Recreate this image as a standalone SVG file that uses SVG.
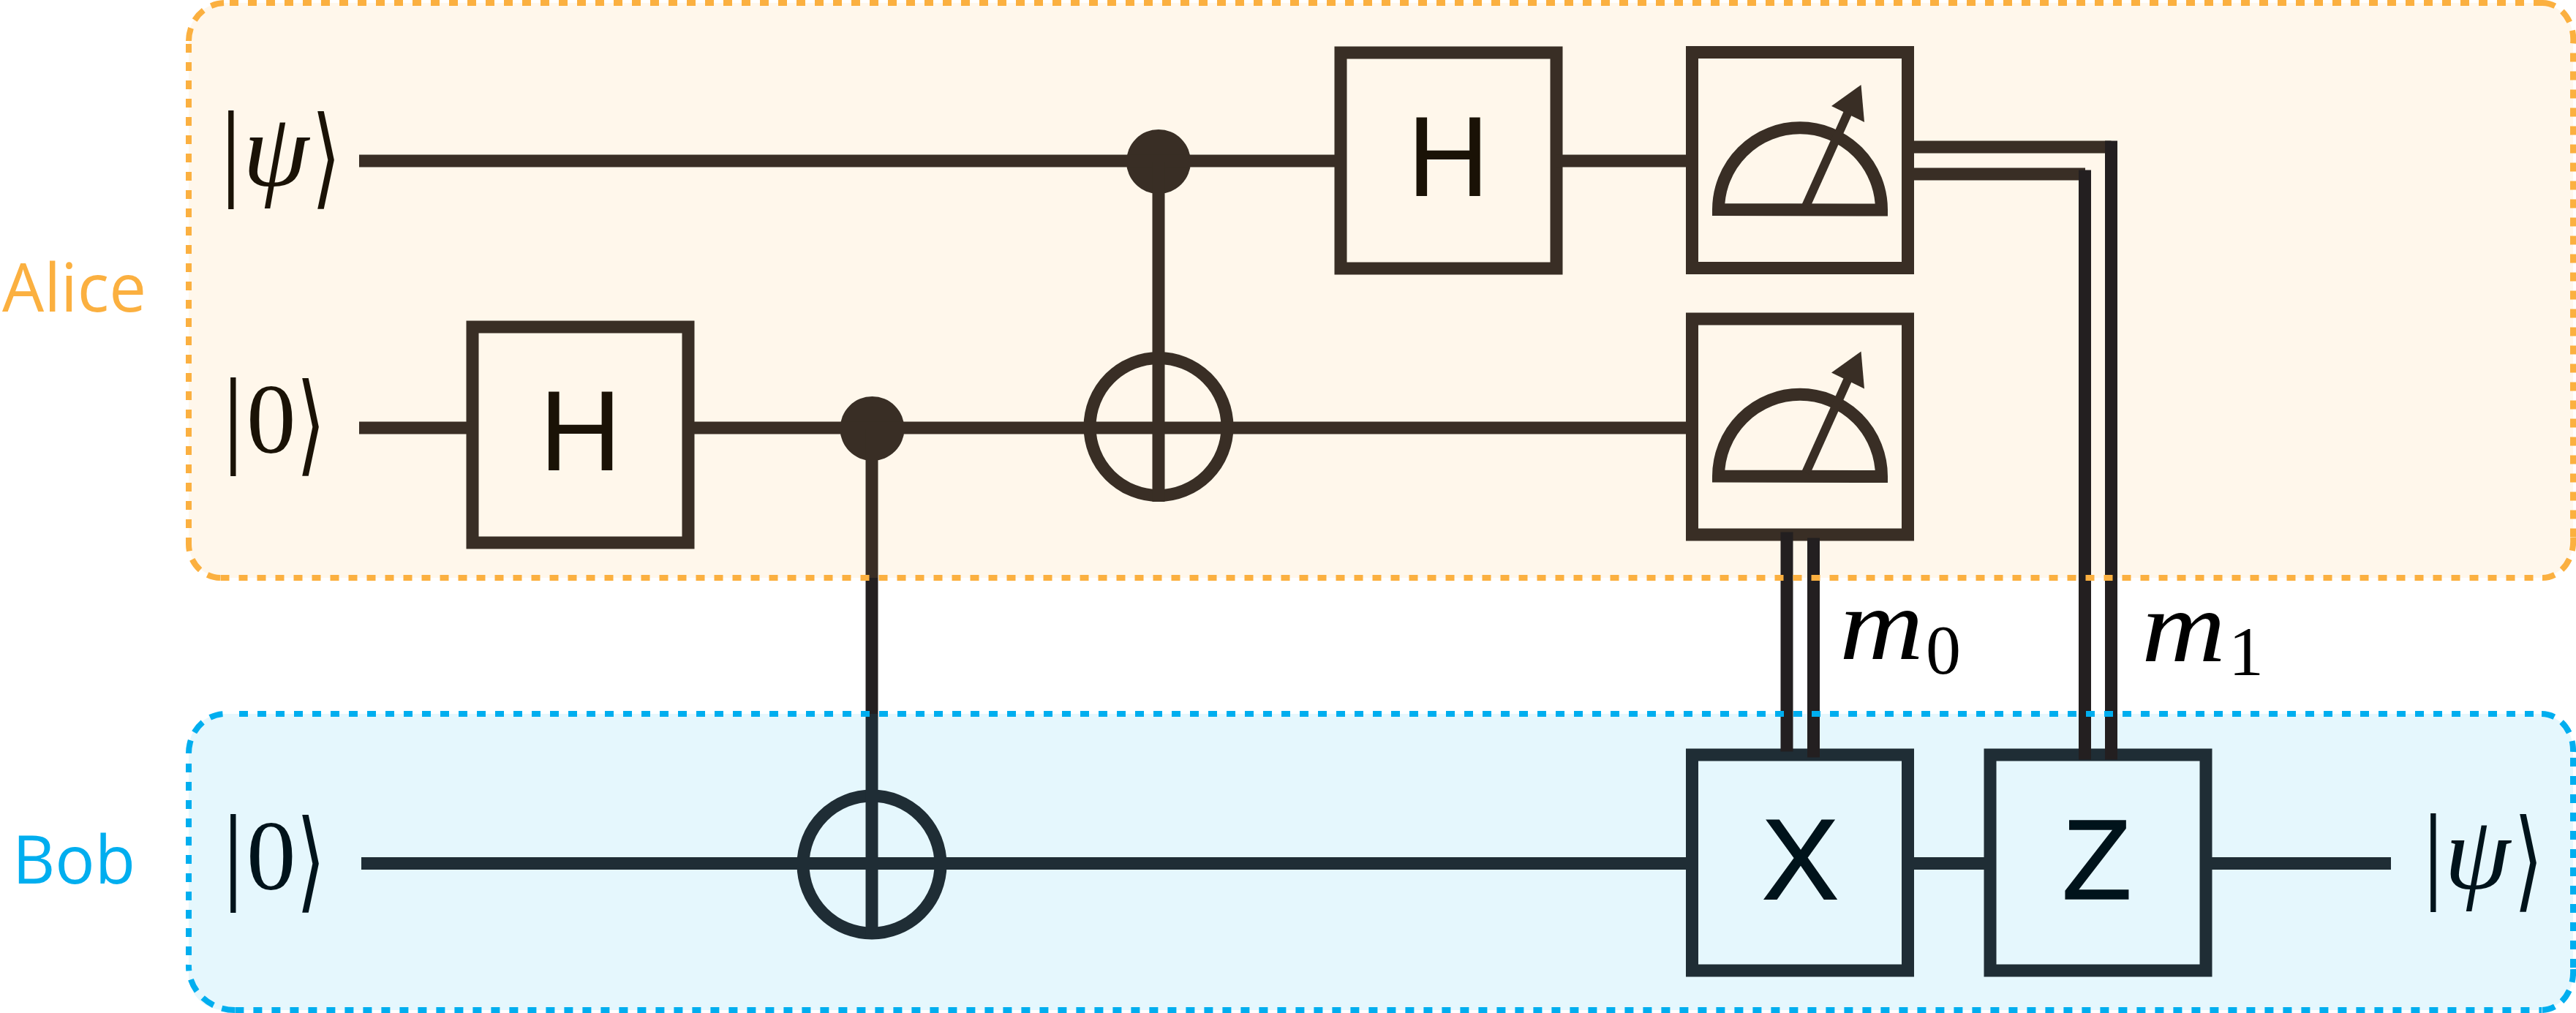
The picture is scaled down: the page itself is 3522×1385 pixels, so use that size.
<svg xmlns="http://www.w3.org/2000/svg" width="3522" height="1385" viewBox="0 0 3522 1385">
<style>
text{font-family:"Liberation Serif",serif}
.sans{font-family:"Liberation Sans",Arial,sans-serif;font-size:156px}
.lab{font-family:"Open Sans","Noto Sans",sans-serif;font-size:92px}
.math{font-size:148px}
.dig{font-size:135px}
.it{font-style:italic;font-size:145px}
.mi{font-style:italic;font-size:140px}
.sub{font-size:96px}
.ang{font-family:"DejaVu Sans",sans-serif;font-size:150px}
.ka{fill:#1a1206}.kb{fill:#00131b}.k{fill:#000}
.box{fill:none;stroke-width:17}
.ba{stroke:#392e25}.bb{stroke:#1f2d35}.bn{stroke:#231f20}
.w{fill:none;stroke-width:17}
.edge{fill:none;stroke-width:8;stroke-dasharray:12 13}
.corner{fill:none;stroke-width:8;stroke-dasharray:18 12}
</style>
<defs>
<g id="meter">
<path class="box ba" d="M2349.5 286.5A111.5 112 0 0 1 2572.5 287Z"/>
<path d="M2469 282L2527 153" fill="none" stroke="#392e25" stroke-width="12"/>
<polygon points="2544.5,116 2504,145 2549,167" fill="#392e25"/>
</g>
</defs>
<rect id="alice-region" x="258" y="4" width="3260" height="786" rx="48" fill="#fff7eb"/>
<rect id="bob-region" x="258" y="976" width="3260" height="405" rx="48" fill="#e5f7fd"/>
<g id="label-alice"><text class="lab" x="3" y="426" fill="#fbb040" textLength="197" lengthAdjust="spacingAndGlyphs">Alice</text></g>
<g id="label-bob"><text class="lab" x="17" y="1208" fill="#00aeef" textLength="168" lengthAdjust="spacingAndGlyphs">Bob</text></g>
<g id="in-psi"><text class="ka" y="254"><tspan class="math" x="301">|</tspan><tspan class="it" x="332">ψ</tspan><tspan class="ang" x="426" dy="12" textLength="40" lengthAdjust="spacingAndGlyphs">⟩</tspan></text></g>
<g id="in-zero-a"><text class="ka" y="619"><tspan class="math" x="304">|</tspan><tspan class="dig" x="337">0</tspan><tspan class="ang" x="405" dy="12" textLength="40" lengthAdjust="spacingAndGlyphs">⟩</tspan></text></g>
<g id="in-zero-b"><text class="kb" y="1216"><tspan class="math" x="304">|</tspan><tspan class="dig" x="337">0</tspan><tspan class="ang" x="405" dy="12" textLength="40" lengthAdjust="spacingAndGlyphs">⟩</tspan></text></g>
<g id="out-psi"><text class="kb" y="1215"><tspan class="math" x="3312">|</tspan><tspan class="it" x="3342">ψ</tspan><tspan class="ang" x="3437" dy="12" textLength="40" lengthAdjust="spacingAndGlyphs">⟩</tspan></text></g>
<g id="gate-h-0"><rect class="box ba" x="646" y="447" width="295" height="295"/><text class="sans ka" x="793.5" y="643" text-anchor="middle">H</text></g>
<g id="gate-h-1"><rect class="box ba" x="1833" y="72" width="295" height="295"/><text class="sans ka" x="1980" y="268" text-anchor="middle">H</text></g>
<g id="measure-1"><rect class="box ba" x="2313.5" y="71.5" width="295" height="295"/><use href="#meter"/></g>
<g id="measure-0"><rect class="box ba" x="2313.5" y="436" width="295" height="295"/><use href="#meter" y="364.5"/></g>
<g id="gate-x"><rect class="box bb" x="2313.5" y="1032" width="295" height="295"/><text class="sans kb" x="2461.5" y="1229" text-anchor="middle" stroke="#00131b" stroke-width="2">X</text></g>
<g id="gate-z"><rect class="box bb" x="2721" y="1032" width="295" height="295"/><text class="sans kb" x="2867" y="1229" text-anchor="middle" stroke="#00131b" stroke-width="1.5">Z</text></g>
<g id="cnot-a"><circle cx="1584" cy="583.5" r="94" fill="none" stroke="#392e25" stroke-width="17"/></g>
<g id="cnot-b"><circle cx="1192" cy="1182" r="94" fill="none" stroke="#1f2d35" stroke-width="17"/></g>
<g id="control-a"><circle cx="1584" cy="221" r="44" fill="#392e25"/></g>
<g id="control-b"><circle cx="1192.5" cy="586" r="44" fill="#392e25"/></g>
<g id="label-m0"><text class="k" y="901"><tspan class="mi" x="2515" textLength="115" lengthAdjust="spacingAndGlyphs">m</tspan><tspan class="sub" x="2633" dy="20">0</tspan></text></g>
<g id="label-m1"><text class="k" y="904"><tspan class="mi" x="2928" textLength="115" lengthAdjust="spacingAndGlyphs">m</tspan><tspan class="sub" x="3047" dy="19">1</tspan></text></g>
<g id="connectors">
<path class="w ba" d="M491 220H1833M2128 220H2305M491 585H646M941 585H2305M2617 201H2886.5M2617 238H2851"/>
<path class="w ba" d="M1584 221V686"/>
<path class="w ba" d="M1192 586V790"/>
<path class="w bn" d="M1192 790V976"/>
<path class="w bb" d="M1192 976V1284"/>
<path class="w bb" d="M494 1180.5H2305M2617 1180.5H2713M3024 1180.5H3269"/>
<path class="w bn" d="M2886.5 192.5V1038.5M2850.5 232.5V1038.5M2443 727.5V1027.5M2479.5 735.5V1035.5"/>
</g>
<g id="alice-border" stroke="#fbb040">
<path class="edge" d="M314 4H3476M3518 72.5V735M301.5 790H3476M258 60V744"/>
<path class="corner" d="M3476 4A42 50 0 0 1 3518 60M3518 735A42 50 0 0 1 3476 790M301 790A44 46 0 0 1 258 744M258 56A50 52 0 0 1 308 4"/>
</g>
<g id="bob-border" stroke="#00aeef">
<path class="edge" d="M327 976H3475M3518 1036V1325M321.4 1381H3475M258 1044V1319"/>
<path class="corner" d="M3475 976A43 50 0 0 1 3518 1028M3518 1325A43 52 0 0 1 3475 1381M321 1381A63 60 0 0 1 258 1319M258 1030A50 54 0 0 1 308 976"/>
</g>
</svg>
